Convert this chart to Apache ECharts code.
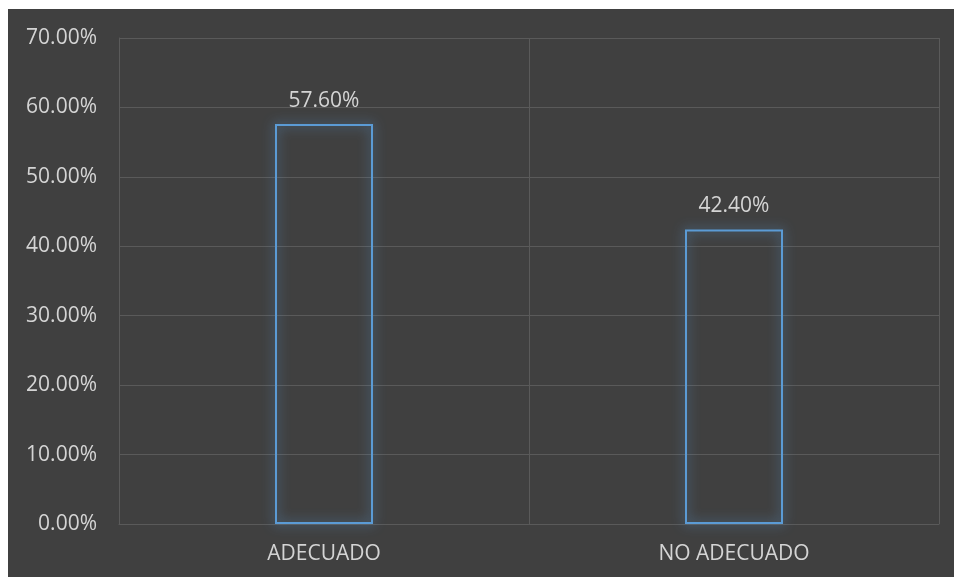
<!DOCTYPE html>
<html><head><meta charset="utf-8">
<script src="https://cdn.jsdelivr.net/npm/echarts@6/dist/echarts.min.js"></script>
<style>
html,body{margin:0;padding:0;background:#ffffff;width:954px;height:577px;overflow:hidden;}
#c{position:absolute;left:8px;top:9px;width:946px;height:568px;background:#404040;}
</style></head>
<body><div id="c"></div>
<script>
const categories = ['ADECUADO', 'NO ADECUADO'];
const values = [57.6, 42.4];
const yTicks = { min: 0, max: 70, interval: 10 };

const chart = echarts.init(document.getElementById('c'), null, { renderer: 'canvas' });
const txt = '#d4d4d4';
const font = 'Open Sans';
chart.setOption({
  backgroundColor: '#404040',
  animation: false,
  grid: { left: 111, right: 15, top: 29, bottom: 53, containLabel: false },
  xAxis: {
    type: 'category',
    data: categories,
    boundaryGap: true,
    axisLine: { show: true, lineStyle: { color: '#5a5a5a', width: 1 } },
    axisTick: { show: false },
    splitLine: { show: true, lineStyle: { color: '#5a5a5a', width: 1 } },
    axisLabel: { color: txt, fontSize: 21, fontFamily: font, margin: 20 }
  },
  yAxis: {
    type: 'value',
    min: yTicks.min, max: yTicks.max, interval: yTicks.interval,
    axisLine: { show: true, lineStyle: { color: '#5a5a5a' } },
    axisTick: { show: false },
    splitLine: { show: true, lineStyle: { color: '#5a5a5a', width: 1 } },
    axisLabel: { color: txt, fontSize: 21, fontFamily: font, margin: 22,
      formatter: v => v.toFixed(2) + '%' }
  },
  series: [{
    type: 'bar',
    data: values,
    barWidth: 98,
    itemStyle: {
      color: 'rgba(64,64,64,0.0)',
      borderColor: '#5b9bd5',
      borderWidth: 2,
      shadowColor: 'rgba(91,155,213,0.9)',
      shadowBlur: 12
    },
    label: {
      show: true, position: 'top', distance: 13,
      color: txt, fontSize: 21, fontFamily: font,
      formatter: p => p.value.toFixed(2) + '%'
    }
  }]
});
</script></body></html>
